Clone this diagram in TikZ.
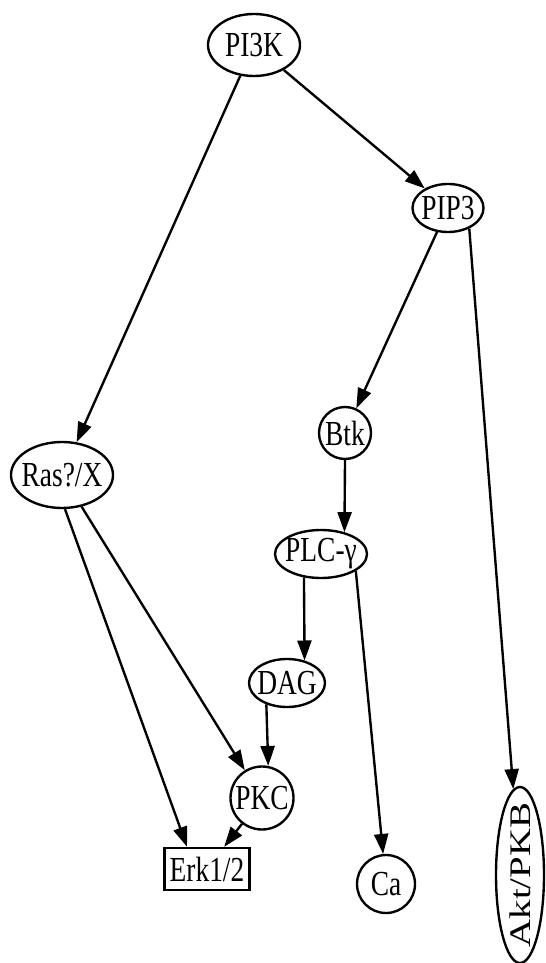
\documentclass[tikz,border=0pt]{standalone}
\usepackage{fontspec}
\setmainfont{Liberation Serif}
\newfontfamily\tallfont[FakeStretch = 0.78]{Liberation Serif}
\newfontfamily\longfont[FakeStretch = 1.3]{Liberation Serif}
\usetikzlibrary{shapes.geometric, arrows.meta}

\tikzset{
  oval/.style  = {draw, ellipse, inner sep = -12pt, font = \tallfont\fontsize{20}{24}\selectfont},
  ring/.style  = {draw, circle, inner sep = -12pt, font = \tallfont\fontsize{20}{24}\selectfont},
  boxed/.style = {draw, rectangle, inner sep = -12pt, font = \tallfont\fontsize{20}{24}\selectfont},
  link/.style  = {-{Triangle[length = 4mm, width = 2.8mm]}},
}

\begin{document}
\begin{tikzpicture}[x = .2mm, y = -.2mm, line width = 1.35pt]
    \useasboundingbox (0, 0) rectangle (545, 963);
    \node (pi3k) at (254,  45) [oval, minimum width = 1.84cm, minimum height = 1.24cm] {PI3K};
    \node (pip3) at (448, 208) [oval, minimum width = 1.42cm, minimum height = .96cm]  {PIP3};
    \node (ras)  at ( 62, 475) [oval, minimum width = 2.04cm, minimum height = 1.32cm] {Ras?/X};
    \node (btk)  at (345, 433) [ring, minimum size = 1.04cm]                            {Btk};
    \node (plc)  at (321, 554) [oval, minimum width = 1.84cm, minimum height = .96cm]  {PLC-γ};
    \node (dag)  at (287, 683) [oval, minimum width = 1.52cm, minimum height = .96cm]  {DAG};
    \node (pkc)  at (262, 798) [ring, minimum size = 1.26cm]                            {PKC};
    \node (erk)  at (207, 869) [boxed, minimum width = 1.7cm, minimum height = .84cm]  {Erk1/2};
    \node (ca)   at (386, 884) [ring, minimum size = 1.16cm]                            {Ca};
    \node (akt)  at (520, 875) [oval, rotate = 90, font = \longfont\fontsize{17}{20}\selectfont,
                                minimum width = 3.52cm, minimum height = .96cm]         {Akt/PKB};
    \draw [link] (pi3k)--(pip3);
    \draw [link] (pi3k)--(ras);
    \draw [link] (pip3)--(btk);
    \draw [link] (pip3.316)--(akt);
    \draw [link] (btk.south)--(plc.43);
    \draw [link] (plc.234)--(dag.52);
    \draw [link] (plc.334)--(ca);
    \draw [link] (dag.226)--(pkc.79);
    \draw [link] (ras)--(pkc);
    \draw [link] (ras.275)--(erk.132);
    \draw [link] (pkc)--(erk);
  \end{tikzpicture}
\end{document}
